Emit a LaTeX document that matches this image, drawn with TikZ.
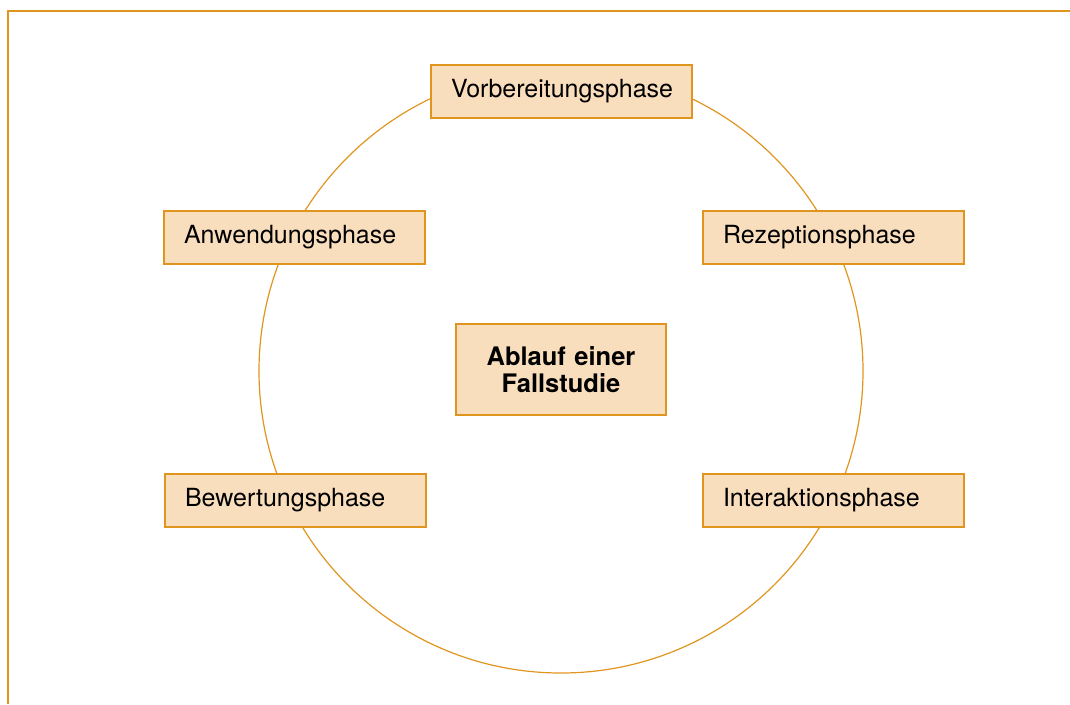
\documentclass[tikz,border=0pt]{standalone}
\usepackage{fontspec}
\setmainfont{TeX Gyre Heros}
\definecolor{frameorange}{HTML}{E0951F}
\definecolor{boxfill}{HTML}{F9DEBD}
\begin{document}
\begin{tikzpicture}[x=1pt,y=-1pt,
  phasebox/.style={draw=frameorange, line width=1.4pt, fill=boxfill,
    text width=221pt, align=left, inner xsep=20pt, inner ysep=0pt,
    minimum height=53pt, font=\fontsize{25}{28}\selectfont},
  centerbox/.style={draw=frameorange, line width=1.4pt, fill=boxfill,
    text width=210pt, align=center, inner sep=0pt,
    minimum height=91pt, font=\fontsize{25.5}{27}\selectfont\bfseries}]
  \useasboundingbox (0,0) rectangle (1070,704);
  % frame lines at top and left
  \coordinate (ftl) at (8,11);
  \coordinate (ftr) at (1070,11);
  \coordinate (fbl) at (8,704);
  \draw[frameorange, line width=2.8pt] (ftr) -- (ftl) -- (fbl);
  % cycle ring
  \node (ring) [draw=frameorange, line width=1.2pt, circle, minimum size=604pt, inner sep=0pt] at (561,371) {};
  % phases
  \node (vor) [phasebox] at (561.5,91.5) {Vorbereitungsphase};
  \node (anw) [phasebox] at (294.5,237.5) {Anwendungsphase};
  \node (rez) [phasebox] at (833.5,237.5) {Rezeptionsphase};
  \node (bew) [phasebox] at (295.5,500.5) {Bewertungsphase};
  \node (int) [phasebox] at (833.5,500.5) {Interaktionsphase};
  \node (mid) [centerbox] at (561,369.5) {Ablauf einer\\Fallstudie};
\end{tikzpicture}
\end{document}
